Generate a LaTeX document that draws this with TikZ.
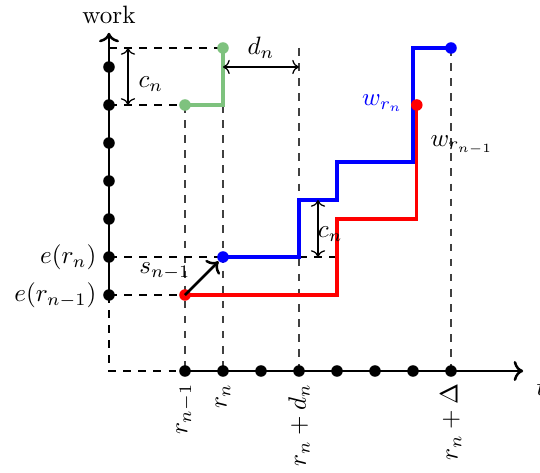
\documentclass[tikz,border=0pt]{standalone}
\usetikzlibrary{arrows.meta}
\definecolor{mygreen}{RGB}{126,194,126}
\begin{document}
\begin{tikzpicture}[x=0.532cm,y=0.532cm,
  dot/.style={circle,fill,inner sep=0pt,minimum size=4.6pt},
  axis/.style={line width=1pt},
  guide/.style={dashed,line width=0.5pt},
  vguide/.style={dashed,line width=0.5pt,black!75},
  dim/.style={{To}-{To},line width=0.5pt},
  stair/.style={line width=1.3pt}]
\useasboundingbox (-2.868,-2.684) rectangle (11.342,9.763);

% coordinates
\coordinate (O) at (0,0);
\coordinate (X2) at (2,0);
\coordinate (Y2) at (0,2);
\coordinate (Xend) at (10.9,0);
\coordinate (Yend) at (0,8.9);
\coordinate (Tpos) at (11.02,0);

% guides
\draw[vguide] (2,7) -- (2,0);
\draw[vguide] (3,7) -- (3,0);
\draw[vguide] (5,8.5) -- (5,0);
\draw[vguide] (9,8.5) -- (9,0);
\draw[guide] (0,8.5) -- (3,8.5);
\draw[guide] (0,7) -- (2,7);
\draw[guide] (0,3) -- (3,3);
\draw[guide] (0,2) -- (2,2);
\draw[guide] (5,3) -- (6,3);

% axes
\draw[axis,dashed] (Y2) -- (O) -- (X2);
\draw[axis,-{To}] (X2) -- (Xend);
\draw[axis,-{To}] (Y2) -- (Yend);
\node (work) [above] at (Yend) {work};
\node (tl) [below right] at (Tpos) {$t$};

% axis dots
\foreach \i in {2,...,9} \node[dot] (xd\i) at (\i,0) {};
\foreach \i in {2,...,8} \node[dot] (yd\i) at (0,\i) {};

% green
\draw[stair,mygreen] (2,7) -- (3,7) -- (3,8.5);
\node[dot,mygreen] (g1) at (2,7) {};
\node[dot,mygreen] (g2) at (3,8.5) {};

% red
\draw[stair,red] (2,2) -- (6,2) -- (6,4) -- (8.1,4) -- (8.1,7);
% blue
\draw[stair,blue] (3,3) -- (5,3) -- (5,4.5) -- (6,4.5) -- (6,5.5) -- (8,5.5) -- (8,8.5) -- (9,8.5);

\node[dot,red] (r1) at (2,2) {};
\node[dot,red] (r2) at (8.1,7) {};
\node[dot,blue] (b1) at (3,3) {};
\node[dot,blue] (b2) at (9,8.5) {};

% s arrow
\draw[line width=1pt,-{To}] (r1.center) -- (b1);
\node (sl) at (1.47,2.62) {$s_{n-1}$};

% dimension arrows
\coordinate (c1a) at (0.5,8.5);
\coordinate (c1b) at (0.5,7);
\draw[dim] (c1a) -- (c1b);
\node (c1l) at (1.1,7.55) {$c_n$};
\coordinate (d1a) at (3,8);
\coordinate (d1b) at (5,8);
\draw[dim] (d1a) -- (d1b);
\node (d1l) at (4,8.5) {$d_n$};
\coordinate (c2a) at (5.5,4.5);
\coordinate (c2b) at (5.5,3);
\draw[dim] (c2a) -- (c2b);
\node (c2l) at (5.82,3.6) {$c_n$};

% labels
\node[blue] (wrn) at (7.2,7.05) {$w_{r_n}$};
\node (wrn1) at (9.29,5.95) {$w_{r_{n-1}}$};
\node[left] (ern) at (-0.1,3) {$e(r_n)$};
\node[left] (ern1) at (-0.1,2) {$e(r_{n-1})$};

\node[rotate=90,anchor=east] (l1) at (2,-0.1) {$r_{n-1}$};
\node[rotate=90,anchor=east] (l2) at (3,-0.1) {$r_n$};
\node[rotate=90,anchor=east] (l3) at (5,-0.1) {$r_n+d_n$};
\node[rotate=90,anchor=east] (l4) at (9,-0.1) {$r_n+\Delta$};
\end{tikzpicture}
\end{document}
